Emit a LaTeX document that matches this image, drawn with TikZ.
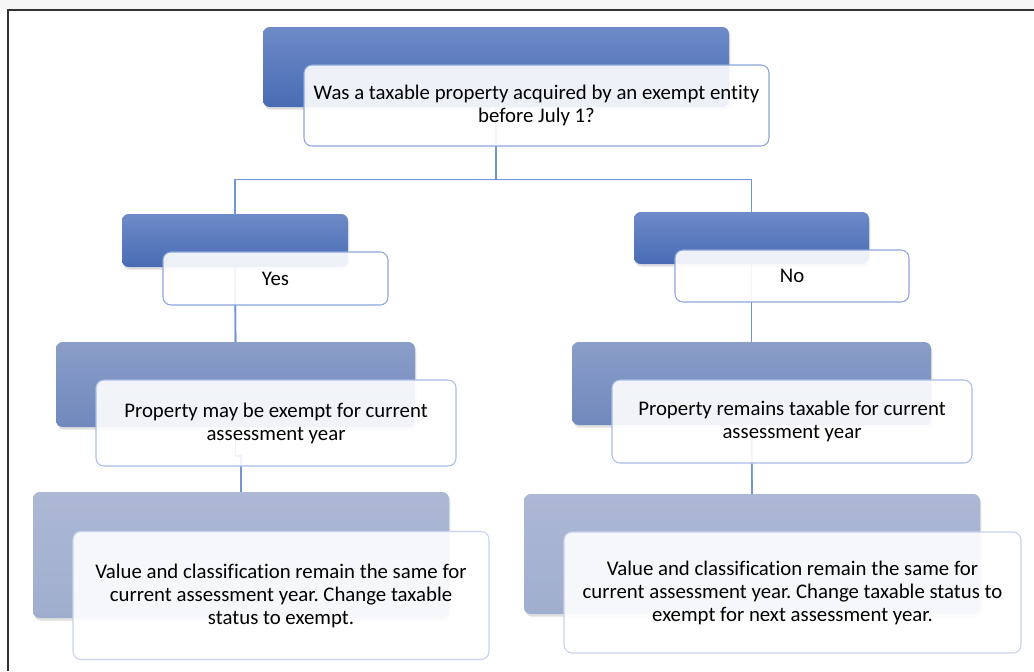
\documentclass[tikz,border=0pt]{standalone}
\usepackage{fontspec}
\setmainfont[Ligatures=NoCommon]{Carlito}
\usetikzlibrary{shadows,backgrounds}
\frenchspacing
\definecolor{linec}{RGB}{114,147,212}
\definecolor{bTopA}{RGB}{110,138,200}
\definecolor{bBotA}{RGB}{72,108,180}
\definecolor{bTopB}{RGB}{138,158,200}
\definecolor{bBotB}{RGB}{112,136,188}
\definecolor{bTopC}{RGB}{172,184,212}
\definecolor{bBotC}{RGB}{160,174,206}
\definecolor{edgeA}{RGB}{140,166,220}
\definecolor{edgeB}{RGB}{170,188,230}
\definecolor{edgeC}{RGB}{200,210,238}
\tikzset{
  sz/.style 2 args={minimum width=#1*0.75pt, minimum height=#2*0.75pt, inner sep=0pt, outer sep=0pt},
  bluebox/.style={rounded corners=5pt, drop shadow={opacity=0.25, shadow xshift=1pt, shadow yshift=-2pt}},
  lvA/.style={bluebox, top color=bTopA, bottom color=bBotA},
  lvB/.style={bluebox, top color=bTopB, bottom color=bBotB},
  lvC/.style={bluebox, top color=bTopC, bottom color=bBotC},
  whitebox/.style={rounded corners=6pt, fill=white, fill opacity=0.9, text opacity=1, draw, line width=0.8pt, align=center, font=\fontsize{15.6}{17.25}\selectfont\frenchspacing},
  wA/.style={whitebox, draw=edgeA},
  wB/.style={whitebox, draw=edgeB},
  wC/.style={whitebox, draw=edgeC},
  conn/.style={draw=linec, line width=1.2pt}
}
\begin{document}
\begin{tikzpicture}[x=0.75pt,y=-0.75pt]
\useasboundingbox (0,0) rectangle (1034,671);
\fill[gray!7] (0,0) rectangle (1034,9);
\draw[line width=1.6pt, black!80] (8,671) -- (8,10) -- (1034,10);

% blue boxes
\node[lvA, sz={466}{80}] (topB) at (496,67) {};
\node[lvA, sz={226}{53}] (yesB) at (235,240.5) {};
\node[lvA, sz={235}{52}] (noB) at (751.5,238) {};
\node[lvB, sz={359}{85}] (l3lB) at (235.5,384.5) {};
\node[lvB, sz={359}{83}] (l3rB) at (751.5,383.5) {};
\node[lvC, sz={416}{126}] (l4lB) at (241,555) {};
\node[lvC, sz={456}{120}] (l4rB) at (752,554) {};

% connectors behind
\begin{scope}[on background layer]
\draw[conn] (topB.center) -- (topB.center |- 0,179.5) -| (yesB.north);
\draw[conn] (topB.center |- 0,179.5) -| (noB.north);
\draw[conn] (yesB.center) -- (l3lB.north);
\draw[conn] (noB.center) -- (l3rB.north);
\draw[conn] (l3lB.center) -- (l3lB.center |- 0,456) -| (l4lB.north);
\draw[conn] (l3rB.center) -- (l4rB.north);
\end{scope}
\draw[conn] (topB.south) -- (topB.south |- 0,179.5);
\draw[conn] (yesB.south) -- (l3lB.north);
\draw[conn] (noB.south) -- (l3rB.north);
\draw[conn] (l3lB.south) -- (l3lB.south |- 0,456) -| (l4lB.north);
\draw[conn] (l3rB.south) -- (l4rB.north);

% white boxes
\node[wA, sz={465}{81}] (topW) at (536.5,105.5) {Was a taxable property acquired by an exempt entity\\before July 1?};
\node[wA, sz={225}{53}] (yesW) at (275.5,278.5) {Yes};
\node[wA, sz={234}{52}] (noW) at (792,276) {No};
\node[wB, sz={360}{86}] (l3lW) at (276,423) {Property may be exempt for current\\assessment year};
\node[wB, sz={360}{83}] (l3rW) at (792,421.5) {Property remains taxable for current\\assessment year};
\node[wC, sz={416}{128}] (l4lW) at (281,595.5) {Value and classification remain the same for\\current assessment year. Change taxable\\status to exempt.};
\node[wC, sz={457}{121}] (l4rW) at (792.5,592.5) {Value and classification remain the same for\\current assessment year. Change taxable status to\\exempt for next assessment year.};
\end{tikzpicture}
\end{document}
